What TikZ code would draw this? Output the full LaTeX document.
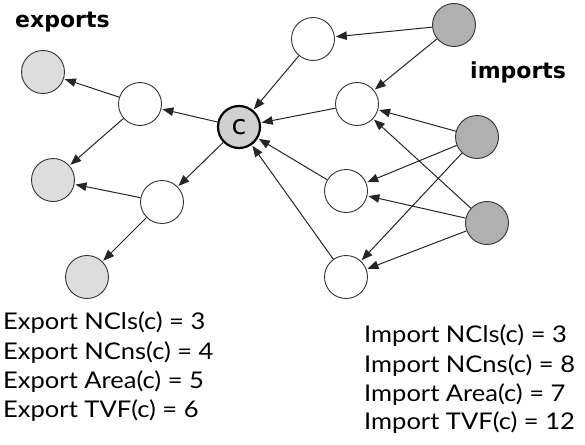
\documentclass[tikz,border=0pt]{standalone}
\usepackage{fontspec}
\setmainfont{Lato}[FakeStretch=1.11]
\newfontfamily\headfont{DejaVu Sans}
\usetikzlibrary{arrows.meta}
\definecolor{darkg}{HTML}{B0B0B0}
\definecolor{lightg}{HTML}{DDDDDD}
\definecolor{cg}{HTML}{D0D0D0}
\tikzset{
  vtx/.style={circle,draw=black!80,line width=0.9pt,minimum size=43pt,inner sep=0pt},
  whitev/.style={vtx,fill=white},
  darkv/.style={vtx,fill=darkg},
  lightv/.style={vtx,fill=lightg},
  cv/.style={vtx,fill=cg,draw=black,line width=2.2pt,minimum size=42pt},
  edge/.style={line width=1pt,black!85,-{Triangle[length=11pt,width=8.5pt]},shorten >=1pt},
  head/.style={font=\headfont\bfseries\fontsize{22}{24}\selectfont,anchor=base west,inner sep=0pt},
  metric/.style={font=\fontsize{23}{25}\selectfont,anchor=base west,inner sep=0pt}
}
\begin{document}
\begin{tikzpicture}[x=1pt,y=-1pt]
\useasboundingbox (0,0) rectangle (585,444);
% nodes
\node[cv] (c) at (239,127) {\headfont\fontsize{27}{27}\selectfont c};
\node[whitev] (tw) at (313,39) {};
\node[whitev] (ru) at (357,104) {};
\node[whitev] (rm) at (346,191) {};
\node[whitev] (rl) at (346,277) {};
\node[darkv] (d1) at (454,25) {};
\node[darkv] (d2) at (477,137) {};
\node[darkv] (d3) at (487,223) {};
\node[whitev] (w1) at (140,104) {};
\node[whitev] (w2) at (162,202) {};
\node[lightv] (l1) at (43,72) {};
\node[lightv] (l2) at (53,180) {};
\node[lightv] (l3) at (87,277) {};
% edges
\draw[edge] (d1) -- (tw);
\draw[edge] (d1) -- (ru);
\draw[edge] (d2) -- (ru);
\draw[edge] (d3) -- (ru);
\draw[edge] (d2) -- (rm);
\draw[edge] (d2) -- (rl);
\draw[edge] (d3) -- (rm);
\draw[edge] (d3) -- (rl);
\draw[edge] (tw) -- (c);
\draw[edge] (ru) -- (c);
\draw[edge] (rm) -- (c);
\draw[edge] (rl) -- (c);
\draw[edge] (c) -- (w1);
\draw[edge] (c) -- (w2);
\draw[edge] (w1) -- (l1);
\draw[edge] (w1) -- (l2);
\draw[edge] (w2) -- (l2);
\draw[edge] (w2) -- (l3);
% labels
\node[head] (ex) at (15,28) {exports};
\node[head] (im) at (470,78) {imports};
\node[metric] (e1) at (3,329) {Export NCls(c) = 3};
\node[metric] (e2) at (3,359) {Export NCns(c) = 4};
\node[metric] (e3) at (3,388) {Export Area(c) = 5};
\node[metric] (e4) at (3,417) {Export TVF(c) = 6};
\node[metric] (i1) at (364,342) {Import NCls(c) = 3};
\node[metric] (i2) at (364,372) {Import NCns(c) = 8};
\node[metric] (i3) at (364,401) {Import Area(c) = 7};
\node[metric] (i4) at (364,429) {Import TVF(c) = 12};
\end{tikzpicture}
\end{document}
